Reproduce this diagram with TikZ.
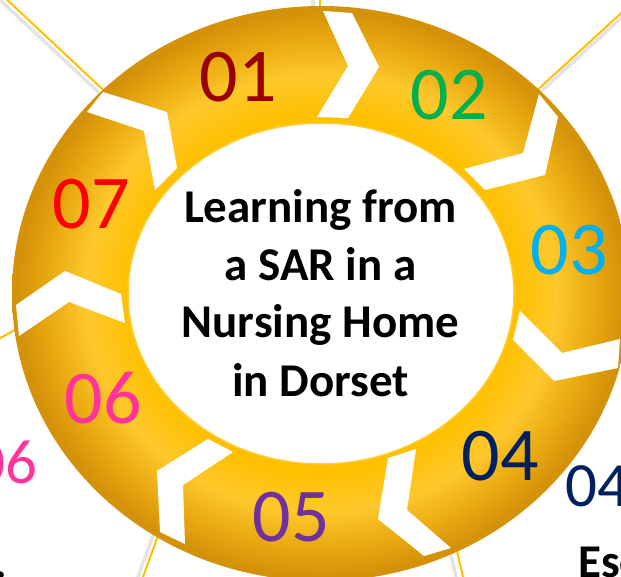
\documentclass[tikz,border=0pt]{standalone}
\usepackage{fontspec}
\setmainfont{Carlito}
\definecolor{c01}{HTML}{990000}
\definecolor{c02}{HTML}{00B050}
\definecolor{c03}{HTML}{00B0F0}
\definecolor{c04}{HTML}{002060}
\definecolor{c05}{HTML}{7030A0}
\definecolor{c06}{HTML}{FF3399}
\definecolor{c07}{HTML}{FF0000}
\definecolor{ringin}{HTML}{FFC000}
\definecolor{ringmid}{HTML}{FDC82C}
\definecolor{ringo1}{HTML}{E6A50E}
\definecolor{ringo}{HTML}{D4920A}
\definecolor{leadcol}{HTML}{FFC000}
\pgfdeclareradialshading{ringshade}{\pgfpoint{0bp}{0bp}}{color(0bp)=(ringin); color(15.5bp)=(ringin); color(19bp)=(ringmid); color(22.5bp)=(ringo1); color(24.5bp)=(ringo); color(25bp)=(ringo); color(50bp)=(ringo)}
\tikzset{
  lead/.style={draw=leadcol, line width=2pt},
  leadshadow/.style={draw=black!30, opacity=0.35, line width=3.5pt},
  chev/.style={fill=white},
  num/.style={font=\fontsize{76}{76}\selectfont, anchor=base, inner sep=0pt},
  outnum/.style={font=\fontsize{63}{63}\selectfont, inner sep=0pt},
  ctext/.style={font=\bfseries\fontsize{47}{47}\selectfont, anchor=base, inner sep=0pt}
}
\begin{document}
\begin{tikzpicture}[x=1pt,y=-1pt]
\useasboundingbox (0,0) rectangle (621,577);
% leader line end points
\coordinate (a1) at (320,-5);   \coordinate (b1) at (320,40);
\coordinate (a2) at (2,-5);     \coordinate (b2) at (130,115);
\coordinate (a3) at (630,5);    \coordinate (b3) at (520,106);
\coordinate (a4) at (-5,341);   \coordinate (b4) at (40,316);
\coordinate (a5) at (140,585);  \coordinate (b5) at (162,525);
\coordinate (a6) at (465,585);  \coordinate (b6) at (452,530);
% shadows
\draw[leadshadow] ([xshift=-7pt]a1) -- ([xshift=-7pt]b1);
\draw[leadshadow] ([xshift=-3pt,yshift=-4pt]a2) -- ([xshift=-3pt,yshift=-4pt]b2);
\draw[leadshadow] ([xshift=2pt,yshift=-3pt]a3) -- ([xshift=2pt,yshift=-3pt]b3);
\draw[leadshadow] ([xshift=-5pt]a5) -- ([xshift=-5pt]b5);
\draw[leadshadow] ([xshift=-7pt]a6) -- ([xshift=-7pt]b6);
% lines
\draw[lead] (a1) -- (b1);
\draw[lead] (a2) -- (b2);
\draw[lead] (a3) -- (b3);
\draw[lead] (a4) -- (b4);
\draw[lead] (a5) -- (b5);
\draw[lead] (a6) -- (b6);
% ring
\shade[shading=ringshade] (321,293.5) ellipse [x radius=309pt, y radius=287.5pt];
\draw[draw=ringin!80!white, line width=1.5pt, fill=white] (321,293.5) ellipse [x radius=193pt, y radius=170.5pt];
% chevrons
\fill[chev] (323,11) -- (352,13) -- (379,67) -- (348,118) -- (317,117) -- (348,66) -- cycle;
\fill[chev] (539,94) -- (558,117) -- (545,175) -- (485,190) -- (464,169) -- (523,153) -- cycle;
\fill[chev] (520,311) -- (562,353) -- (620,339) -- (618,368) -- (554,381) -- (513,340) -- cycle;
\fill[chev] (416,449) -- (388,458) -- (378,519) -- (424,556) -- (451,548) -- (407,510) -- cycle;
\fill[chev] (233,452) -- (208,439) -- (157,471) -- (160,532) -- (185,544) -- (183,485) -- cycle;
\fill[chev] (16,305) -- (65,271) -- (121,294) -- (125,323) -- (69,302) -- (19,336) -- cycle;
\fill[chev] (103,92) -- (167,112) -- (177,168) -- (155,190) -- (144,131) -- (87,112) -- cycle;
% numbers
\node[num, text=c01] (n01) at (238.5,102) {01};
\node[num, text=c02] (n02) at (449.5,120) {02};
\node[num, text=c03] (n03) at (569.5,275) {03};
\node[num, text=c04] (n04) at (500,480) {04};
\node[num, text=c05] (n05) at (291,541) {05};
\node[num, text=c06] (n06) at (103,423) {06};
\node[num, text=c07] (n07) at (91,229) {07};
% centre text
\node[ctext] (t1) at (320.5,223) {Learning from};
\node[ctext] (t2) at (320.5,280) {a SAR in a};
\node[ctext] (t3) at (320.5,337) {Nursing Home};
\node[ctext] (t4) at (320.5,396) {in Dorset};
% outside texts
\node[outnum, text=c06, anchor=base east] (o06) at (38,483) {06};
\node[outnum, text=c04, anchor=base west] (o04) at (565,506) {04};
\node[ctext, anchor=base west] (esc) at (578,577) {Esc};
\node[ctext, anchor=base west] (dot) at (-6,578) {.};
\end{tikzpicture}
\end{document}
